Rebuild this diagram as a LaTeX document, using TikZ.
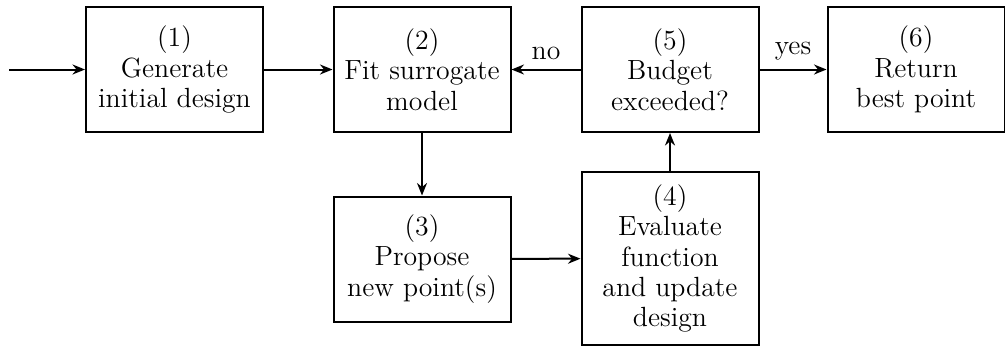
\documentclass[tikz,border=0pt]{standalone}
\usetikzlibrary{arrows.meta}
\begin{document}
\begin{tikzpicture}[x=0.4pt,y=-0.4pt,
  every node/.style={font=\fontsize{11.1pt}{12.1pt}\selectfont},
  stepbox/.style={draw,line width=0.8pt,align=center,minimum width=70.8pt,minimum height=50pt,inner sep=2pt},
  conn/.style={line width=0.8pt,-{Stealth[length=5pt,width=4pt]}}]
\useasboundingbox (0,0) rectangle (1005,347);
\node[stepbox] (n1) at (174.5,69.5) {(1)\\Generate\\initial design};
\node[stepbox] (n2) at (422,69.5) {(2)\\Fit surrogate\\model};
\node[stepbox] (n5) at (670,69.5) {(5)\\Budget\\exceeded?};
\node[stepbox] (n6) at (916,69.5) {(6)\\Return\\best point};
\node[stepbox] (n3) at (422,259) {(3)\\Propose\\new point(s)};
\node[stepbox,minimum height=69.2pt] (n4) at (670,258.5) {(4)\\Evaluate\\function\\and update\\design};
\coordinate (start) at (9,69.5);
\draw[conn] (start) -- (n1);
\draw[conn] (n1) -- (n2);
\draw[conn] (n2) -- (n3);
\draw[conn] (n3) -- (n4);
\draw[conn] (n4) -- (n5);
\draw[conn] (n5) -- node[above] {no} (n2);
\draw[conn] (n5) -- node[above] {yes} (n6);
\end{tikzpicture}
\end{document}
